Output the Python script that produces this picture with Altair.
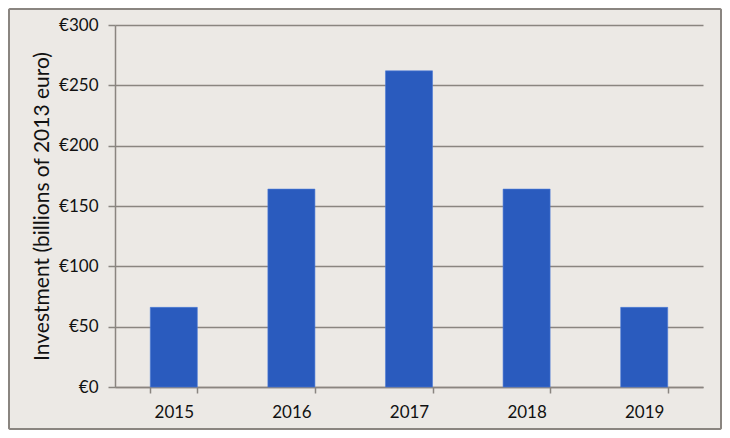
import altair as alt
import pandas as pd

years = ["2015", "2016", "2017", "2018", "2019"]
investment = [66, 164, 262, 164, 66]
y_ticks = [0, 50, 100, 150, 200, 250, 300]

df = pd.DataFrame({"year": years, "value": investment})

FONT = "Lato"
GRID = "#8a8580"
BG = "#ECE9E5"

bars = alt.Chart(df).mark_bar(color="#2A5BBE", stroke="#4C7AD6", strokeWidth=0.6).encode(
    x=alt.X("year:N", sort=years,
            scale=alt.Scale(paddingInner=0.6, paddingOuter=0.3),
            axis=alt.Axis(title=None, labelAngle=0, labelFontSize=17, labelFont=FONT,
                          labelColor="#111", labelPadding=11, tickBand="extent",
                          tickSize=6, tickColor=GRID, domainColor=GRID, domainWidth=1.5,
                          tickWidth=1.5, grid=False)),
    y=alt.Y("value:Q",
            scale=alt.Scale(domain=[0, 300], nice=False),
            axis=alt.Axis(title="Investment (billions of 2013 euro)", values=y_ticks,
                          labelExpr="'€' + datum.value", labelFontSize=17, labelFont=FONT,
                          labelColor="#111", labelPadding=10, tickSize=7, tickColor=GRID,
                          tickWidth=1.5, domainColor=GRID, domainWidth=1.5,
                          grid=True, gridColor=GRID, gridWidth=1.5,
                          titleFont=FONT, titleFontSize=21, titleFontWeight="normal",
                          titleColor="#111", titlePadding=6)),
)

frame = alt.Chart(df).mark_rect(fill=None, stroke="#8a8580", strokeWidth=1.5,
                                cornerRadius=2).encode(
    x=alt.value(-106), x2=alt.value(606), y=alt.value(-16), y2=alt.value(404)
)

chart = alt.layer(frame, bars).properties(
    width=588, height=362,
    autosize=alt.AutoSizeParams(type="none"),
    padding={"left": 107, "top": 17, "right": 19, "bottom": 43},
    background=BG,
).configure_view(stroke=None)

chart.save("out.html", embed_options={"renderer": "svg", "actions": False})
